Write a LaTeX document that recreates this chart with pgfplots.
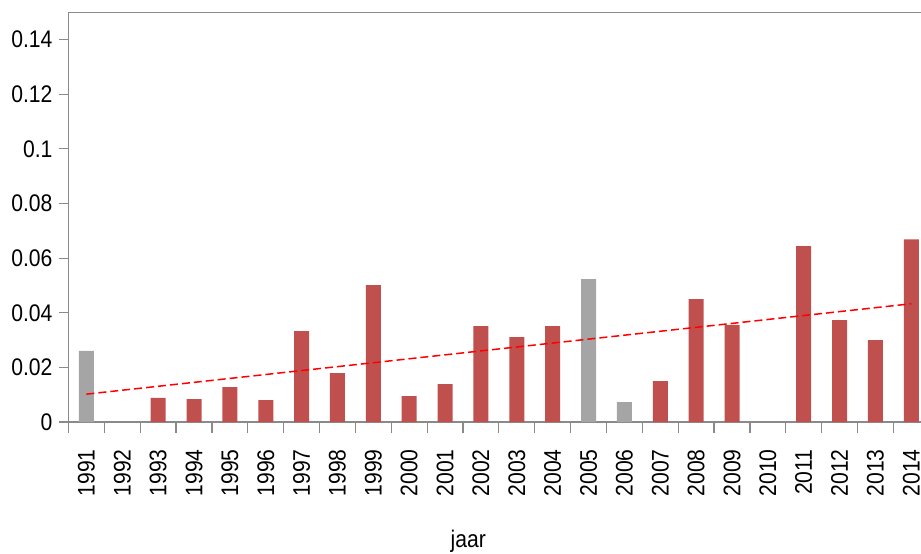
\documentclass[border=0pt]{standalone}
\usepackage{pgfplots}
\pgfplotsset{compat=1.18}
\usepackage{fontspec}
\setmainfont{Liberation Sans}[FakeStretch=0.88]
\definecolor{barred}{HTML}{C0504D}
\definecolor{bargray}{HTML}{A5A5A5}
\definecolor{axgray}{HTML}{8A8A8A}
\begin{document}
\begin{tikzpicture}
\begin{axis}[
  scale only axis,
  width=426.25pt, height=204.85pt,
  xmin=-0.5, xmax=23.27,
  ymin=0, ymax=0.15,
  axis x line*=box, axis y line*=left,
  axis line style={draw=axgray, line width=0.6pt},
  tick align=outside,
  xtick={0,...,23},
  xticklabels={1991,1992,1993,1994,1995,1996,1997,1998,1999,2000,2001,2002,2003,2004,2005,2006,2007,2008,2009,2010,2011,2012,2013,2014},
  xtick pos=bottom,
  xtick style={draw=none},
  minor xtick={-0.5,0.5,...,22.5},
  minor tick length=5.5pt,
  minor x tick style={draw=axgray, line width=0.6pt},
  ytick={0,0.02,0.04,0.06,0.08,0.1,0.12,0.14},
  yticklabels={0,0.02,0.04,0.06,0.08,0.1,0.12,0.14},
  ytick pos=left,
  major tick length=4.5pt,
  y tick style={draw=axgray, line width=0.6pt},
  tick label style={font=\fontsize{12}{14}\selectfont},
  xticklabel style={rotate=90, anchor=east, xshift=-7pt, inner sep=2pt},
  xlabel={jaar},
  xlabel style={font=\fontsize{12}{14}\selectfont, at={(axis description cs:0.469,0)}, anchor=base, yshift=-62.5pt},
]
\coordinate (o) at (rel axis cs:0,0);
\addplot[ybar, bar width=7.5pt, bar shift=0pt, fill=barred, draw=none] coordinates {
  (2,0.0088) (3,0.0084) (4,0.0128) (5,0.0080) (6,0.0333) (7,0.0179) (8,0.0501)
  (9,0.0095) (10,0.0139) (11,0.0351) (12,0.0311) (13,0.0351) (16,0.0150)
  (17,0.0450) (18,0.0356) (20,0.0644) (21,0.0373) (22,0.0300) (23,0.0669)
};
\addplot[ybar, bar width=7.5pt, bar shift=0pt, fill=bargray, draw=none] coordinates {
  (0,0.0260) (14,0.0523) (15,0.0073)
};
\addplot[red, line width=0.75pt, dash pattern=on 4pt off 2pt] coordinates {
  (0,0.0102) (23,0.0433)
};
\end{axis}
\pgfresetboundingbox
\path (o) ++(-34.25pt,-65.5pt) rectangle ++(460.5pt,276.5pt);
\end{tikzpicture}
\end{document}
